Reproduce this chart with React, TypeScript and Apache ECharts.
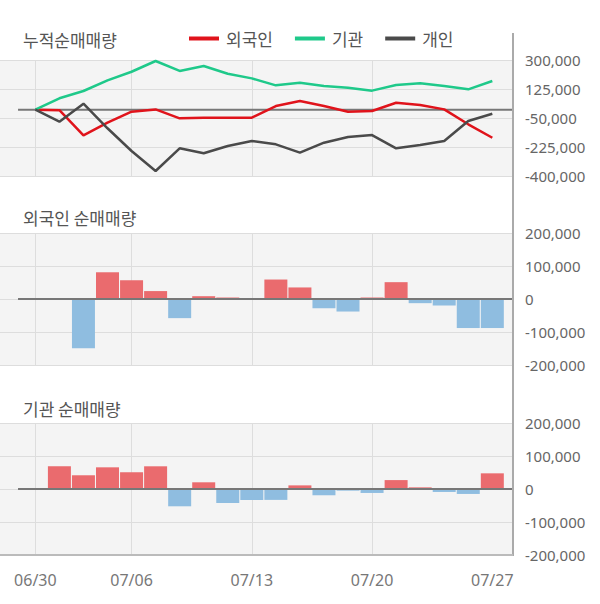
import React, { useEffect, useRef } from "react";
import * as echarts from "echarts";

const dates = ["06/30", "07/01", "07/02", "07/03", "07/06", "07/07", "07/08", "07/09", "07/10", "07/13", "07/14", "07/15", "07/16", "07/17", "07/20", "07/21", "07/22", "07/23", "07/24", "07/27"];
const labelIdx = [0, 4, 9, 14, 19];
const gridIdx = [0, 4, 9, 14];

const foreignCum = [0, -3000, -155000, -78000, -12000, 2000, -52000, -48000, -48000, -48000, 22000, 52000, 22000, -12000, -8000, 42000, 28000, 2000, -88000, -169000];
const instCum = [0, 69000, 113000, 177000, 229000, 294000, 234000, 264000, 217000, 189000, 147000, 163000, 143000, 133000, 115000, 149000, 159000, 143000, 123000, 173000];
const indivCum = [0, -72000, 36000, -112000, -249000, -370000, -233000, -263000, -219000, -189000, -209000, -259000, -199000, -165000, -153000, -233000, -213000, -189000, -68000, -24000];

const foreignDaily = [0, 0, -149000, 81000, 57000, 24000, -58000, 8500, 4500, 0, 59000, 35000, -28000, -38000, 4500, 51000, -12600, -19700, -88000, -88000];
const instDaily = [0, 68800, 41600, 65700, 50600, 68800, -52400, 20300, -42400, -33000, -33000, 11000, -19000, -5000, -12000, 27000, 5000, -9000, -15000, 47500];

const cumTicks = [-400000, -225000, -50000, 125000, 300000];

const X_MIN = -1.47;
const X_MAX = 19.86;
const ZERO_START = -0.72;

const fmt = (v: number) => String(v).replace(/\B(?=(\d{3})+(?!\d))/g, ",");
const pairs = (arr: number[]) => arr.map((v, i) => [i, v]);

const KR = '"Noto Sans CJK KR", "Noto Sans", sans-serif';
const NUM = '"Noto Sans", "Noto Sans CJK KR", sans-serif';

export default function App() {
  const ref = useRef<HTMLDivElement>(null);
  useEffect(() => {
    document.body.style.margin = "0";
    const chart = echarts.init(ref.current!, undefined, { renderer: "svg" });
    const grids = [
      { top: 60, height: 116 },
      { top: 233, height: 132 },
      { top: 423, height: 132 },
    ].map((g) => ({ left: 0, right: 87, ...g, show: true, backgroundColor: "#f4f4f4", borderWidth: 0 }));

    const xAxes = [0, 1, 2].map((gi) => ({
      type: "value",
      gridIndex: gi,
      min: X_MIN,
      max: X_MAX,
      axisLine: { show: false },
      axisTick: { show: false, customValues: gridIdx },
      axisLabel: {
        show: gi === 2,
        customValues: labelIdx,
        formatter: (v: number) => dates[Math.round(v)] ?? "",
        color: "#777",
        fontSize: 16,
        fontFamily: NUM,
        margin: 17,
      },
      splitLine: { show: true, lineStyle: { color: "#dddddd", width: 1 } },
    }));

    const yLabel = { color: "#666", fontSize: 15, fontFamily: NUM, margin: 12, formatter: (v: number) => fmt(v) };
    const yAxes = [
      {
        type: "value",
        gridIndex: 0,
        position: "right",
        min: -400000,
        max: 300000,
        axisLine: { show: false },
        axisTick: { show: false, customValues: cumTicks },
        axisLabel: { ...yLabel, customValues: cumTicks },
        splitLine: { show: true, lineStyle: { color: "#dddddd" } },
      },
      ...[1, 2].map((gi) => ({
        type: "value",
        gridIndex: gi,
        position: "right",
        min: -200000,
        max: 200000,
        interval: 100000,
        axisLine: { show: false },
        axisTick: { show: false },
        axisLabel: yLabel,
        splitLine: { show: true, lineStyle: { color: "#dddddd" } },
      })),
    ];

    const zeroLine = (gi: number, z: number) => ({
      name: "zero" + gi,
      type: "line",
      xAxisIndex: gi,
      yAxisIndex: gi,
      data: [[ZERO_START, 0], [X_MAX, 0]],
      symbol: "none",
      silent: true,
      z,
      lineStyle: { color: "#777", width: 2 },
    });

    const barColor = (p: any) => (p.value[1] >= 0 ? "#ea6b6e" : "#8fbde0");
    const lineS = (name: string, data: number[], color: string, z: number) => ({
      name,
      type: "line",
      xAxisIndex: 0,
      yAxisIndex: 0,
      data: pairs(data),
      symbol: "none",
      z,
      lineStyle: { color, width: 2.5 },
      itemStyle: { color },
    });

    chart.setOption({
      animation: false,
      legend: {
        data: ["외국인", "기관", "개인"],
        left: 184,
        top: 25,
        icon: "rect",
        itemWidth: 30,
        itemHeight: 4,
        itemGap: 22,
        textStyle: { fontFamily: KR, fontSize: 17, color: "#555", padding: [0, 0, 0, 2] },
      },
      grid: grids,
      xAxis: xAxes,
      yAxis: yAxes,
      series: [
        zeroLine(0, 1),
        lineS("외국인", foreignCum, "#e0131b", 3),
        lineS("기관", instCum, "#1fc98a", 3),
        lineS("개인", indivCum, "#4a4a4a", 4),
        {
          name: "외국인 순매매",
          type: "bar",
          xAxisIndex: 1,
          yAxisIndex: 1,
          barWidth: 23,
          data: pairs(foreignDaily),
          itemStyle: { color: barColor },
        },
        zeroLine(1, 5),
        {
          name: "기관 순매매",
          type: "bar",
          xAxisIndex: 2,
          yAxisIndex: 2,
          barWidth: 23,
          data: pairs(instDaily),
          itemStyle: { color: barColor },
        },
        zeroLine(2, 5),
      ],
      graphic: [
        { type: "text", x: 23, y: 39, style: { text: "누적순매매량", font: `17px ${KR}`, fill: "#555", textVerticalAlign: "middle" } },
        { type: "text", x: 23, y: 217, style: { text: "외국인 순매매량", font: `17px ${KR}`, fill: "#555", textVerticalAlign: "middle" } },
        { type: "text", x: 23, y: 408, style: { text: "기관 순매매량", font: `17px ${KR}`, fill: "#555", textVerticalAlign: "middle" } },
        { type: "line", shape: { x1: 513, y1: 33, x2: 513, y2: 556 }, style: { stroke: "#aaaaaa", lineWidth: 2 }, z: 10 },
        { type: "line", shape: { x1: 0, y1: 555, x2: 513, y2: 555 }, style: { stroke: "#bbbbbb", lineWidth: 2 }, z: 10 },
      ],
    });
    return () => chart.dispose();
  }, []);
  return <div ref={ref} style={{ position: "absolute", left: 0, top: 0, width: 600, height: 604 }} />;
}
